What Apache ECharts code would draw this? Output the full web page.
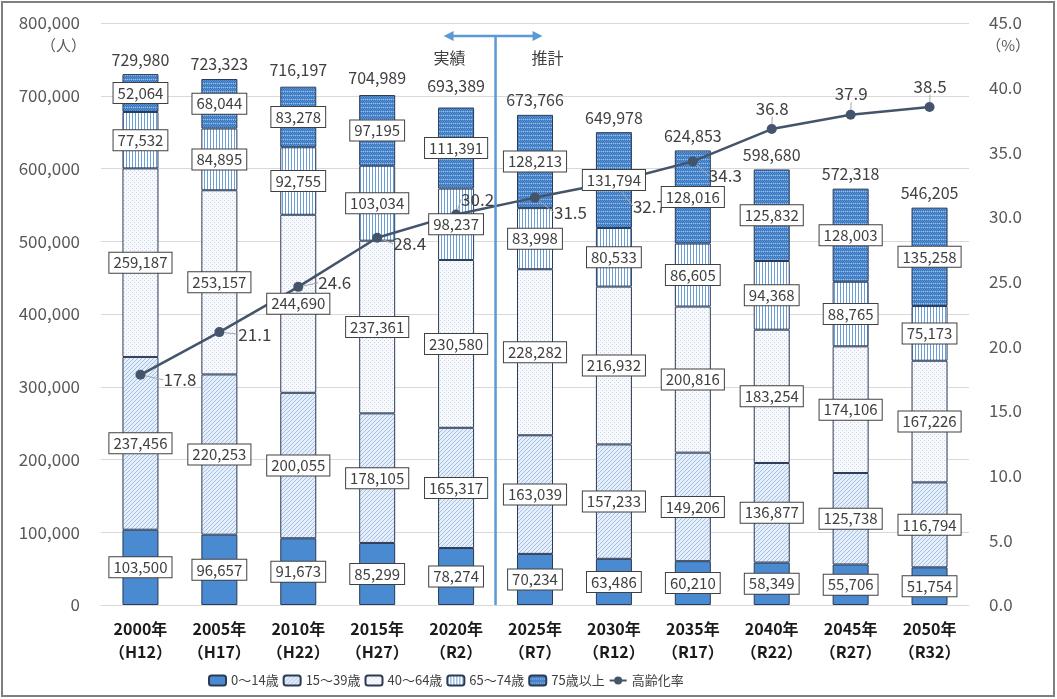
<!DOCTYPE html>
<html>
<head>
<meta charset="utf-8">
<script src="https://cdn.jsdelivr.net/npm/echarts@6/dist/echarts.min.js"></script>
<style>
html,body{margin:0;padding:0;background:#fff;}
#c{width:1057px;height:699px;}
</style>
</head>
<body>
<div id="c"></div>
<script>
const years = ['2000年\n（H12）','2005年\n（H17）','2010年\n（H22）','2015年\n（H27）','2020年\n（R2）','2025年\n（R7）','2030年\n（R12）','2035年\n（R17）','2040年\n（R22）','2045年\n（R27）','2050年\n（R32）'];
const age0_14  = [103500, 96657, 91673, 85299, 78274, 70234, 63486, 60210, 58349, 55706, 51754];
const age15_39 = [237456, 220253, 200055, 178105, 165317, 163039, 157233, 149206, 136877, 125738, 116794];
const age40_64 = [259187, 253157, 244690, 237361, 230580, 228282, 216932, 200816, 183254, 174106, 167226];
const age65_74 = [77532, 84895, 92755, 103034, 98237, 83998, 80533, 86605, 94368, 88765, 75173];
const age75    = [52064, 68044, 83278, 97195, 111391, 128213, 131794, 128016, 125832, 128003, 135258];
const totals   = [729980, 723323, 716197, 704989, 693389, 673766, 649978, 624853, 598680, 572318, 546205];
const agingRate = [17.8, 21.1, 24.6, 28.4, 30.2, 31.5, 32.7, 34.3, 36.8, 37.9, 38.5];
const seriesNames = ['0～14歳','15～39歳','40～64歳','65～74歳','75歳以上'];
const rateName = '高齢化率';

function pat(w,h,draw){
  const c=document.createElement('canvas');c.width=w;c.height=h;
  const g=c.getContext('2d');draw(g,w,h);
  return {image:c,repeat:'repeat'};
}
const pSolid = '#4a8ad0';
const pDiag = pat(4,4,(g,w,h)=>{
  g.fillStyle='#e6eef9';g.fillRect(0,0,w,h);
  g.fillStyle='#a3c0e6';
  for(let i=0;i<4;i++){g.fillRect(3-i,i,1,1);}
});
const pDots = pat(4,4,(g,w,h)=>{
  g.fillStyle='#f7f9fc';g.fillRect(0,0,w,h);
  g.fillStyle='#c6d5ea';g.fillRect(0,0,1,1);g.fillRect(2,2,1,1);
});
const pVert = pat(3,2,(g,w,h)=>{
  g.fillStyle='#ffffff';g.fillRect(0,0,w,h);
  g.fillStyle='#6b9fd8';g.fillRect(0,0,1,h);
});
const pDense = pat(4,4,(g,w,h)=>{
  g.fillStyle='#5b95d6';g.fillRect(0,0,w,h);
  g.fillStyle='#3572ba';g.fillRect(0,0,1,1);g.fillRect(2,0,1,1);g.fillRect(1,1,1,1);g.fillRect(3,1,1,1);g.fillRect(0,2,1,1);g.fillRect(2,2,1,1);
  g.fillStyle='#94bde9';g.fillRect(1,3,1,1);g.fillRect(3,3,1,1);
});
const fills = [pSolid,pDiag,pDots,pVert,pDense];
const groups = [age0_14,age15_39,age40_64,age65_74,age75];

const FONT = '"Noto Sans CJK JP", "Noto Sans", sans-serif';
const segLabel = {
  show:true, position:'inside', color:'#404040', fontSize:15, fontFamily:FONT,
  backgroundColor:'#ffffff', borderColor:'#404040', borderWidth:1, padding:[3,4,2,4],
  formatter:p=>p.value.toLocaleString('en-US')
};
const series = [];
groups.forEach((d,i)=>{
  series.push({name:seriesNames[i],type:'bar',stack:'pop',data:d,barWidth:36,
    itemStyle:{color:fills[i],borderColor:'#2b3a55',borderWidth:1},
    label:{show:false},emphasis:{disabled:true},z:2});
});
groups.forEach((d,i)=>{
  series.push({name:'lbl'+i,type:'bar',stack:'lbl',data:d,barWidth:36,barGap:'-100%',
    itemStyle:{color:'rgba(0,0,0,0)',borderWidth:0},
    label:segLabel,emphasis:{disabled:true},z:5,silent:true});
});
const rateOffsets = [[10,5],[6,2],[7,-4],[3,6],[-8,-15],[6,15],[6,24],[3,14]];
series.push({name:'total',type:'scatter',data:totals,symbolSize:1,itemStyle:{color:'rgba(0,0,0,0)',opacity:1},
  label:{show:true,position:'top',distance:6,color:'#404040',fontSize:16,fontFamily:FONT,formatter:p=>p.value.toLocaleString('en-US')},
  emphasis:{disabled:true},z:5});
series.push({name:rateName,type:'line',yAxisIndex:1,data:agingRate,
  symbol:'circle',symbolSize:10,
  lineStyle:{color:'#44546a',width:2.5},itemStyle:{color:'#44546a'},
  label:{show:true,color:'#404040',fontSize:17,fontFamily:FONT,position:'right',distance:8,
    formatter:p=>p.value.toFixed(1)},
  labelLine:{show:true,lineStyle:{color:'#a6a6a6',width:1}},
  labelLayout:function(params){
    const i=params.dataIndex;
    if(i>=rateOffsets.length) return {dx:-29, dy:-21};
    return {dx:rateOffsets[i][0],dy:rateOffsets[i][1]};
  },
  emphasis:{disabled:true},z:3});

const chart = echarts.init(document.getElementById('c'));
const option = {
  animation:false,
  textStyle:{fontFamily:FONT},
  grid:{left:101,right:88,top:23,bottom:94,containLabel:false},
  legend:{
    bottom:7,left:203,itemWidth:17,itemHeight:10,itemGap:4,
    textStyle:{color:'#404040',fontSize:13,fontFamily:FONT},
    data:seriesNames.concat([rateName])
  },
  xAxis:{type:'category',data:years,
    axisTick:{show:false},axisLine:{show:true,lineStyle:{color:'#d9d9d9'}},
    axisLabel:{interval:0,color:'#1a1a1a',fontSize:16,fontWeight:'bold',lineHeight:23,margin:12,fontFamily:FONT}},
  yAxis:[
    {type:'value',min:0,max:800000,interval:100000,
     axisLabel:{color:'#595959',fontSize:17,margin:21,fontFamily:FONT,formatter:v=>v.toLocaleString('en-US')},
     splitLine:{lineStyle:{color:'#d9d9d9'}},axisLine:{show:false},axisTick:{show:false}},
    {type:'value',min:0,max:45,interval:5,
     axisLabel:{color:'#595959',fontSize:17,margin:20,fontFamily:FONT,formatter:v=>v.toFixed(1)},
     splitLine:{show:false},axisLine:{show:false},axisTick:{show:false}}
  ],
  series:series
};
chart.setOption(option);

const xL = chart.convertToPixel({xAxisIndex:0},4);
const xR = chart.convertToPixel({xAxisIndex:0},5);
const xm = (xL+xR)/2;
const y0 = chart.convertToPixel({yAxisIndex:0},0);
const yTop = chart.convertToPixel({yAxisIndex:0},800000);
const ya = yTop+13;
const blue='#5b9bd5';
chart.setOption({graphic:[
  {type:'rect',shape:{x:2,y:2,width:1052,height:694},style:{fill:'none',stroke:'#7f7f7f',lineWidth:2},silent:true},
  {type:'line',shape:{x1:xm,y1:ya,x2:xm,y2:y0},style:{stroke:blue,lineWidth:2.5},z:10},
  {type:'line',shape:{x1:xm-45,y1:ya,x2:xm+40,y2:ya},style:{stroke:blue,lineWidth:2.5},z:10},
  {type:'polygon',shape:{points:[[xm-52,ya],[xm-42,ya-5],[xm-42,ya+5]]},style:{fill:blue},z:10},
  {type:'polygon',shape:{points:[[xm+47,ya],[xm+37,ya-5],[xm+37,ya+5]]},style:{fill:blue},z:10},
  {type:'text',x:xm-46,y:ya+22,style:{text:'実績',fill:'#404040',font:'16px '+FONT,align:'center',verticalAlign:'middle'},z:10},
  {type:'text',x:xm+52,y:ya+22,style:{text:'推計',fill:'#404040',font:'16px '+FONT,align:'center',verticalAlign:'middle'},z:10},
  {type:'text',x:86,y:yTop+22,style:{text:'（人）',fill:'#595959',font:'15px '+FONT,align:'right',verticalAlign:'middle'},z:10},
  {type:'text',x:1030,y:yTop+22,style:{text:'（%）',fill:'#595959',font:'15px '+FONT,align:'right',verticalAlign:'middle'},z:10}
]});
</script>
</body>
</html>
